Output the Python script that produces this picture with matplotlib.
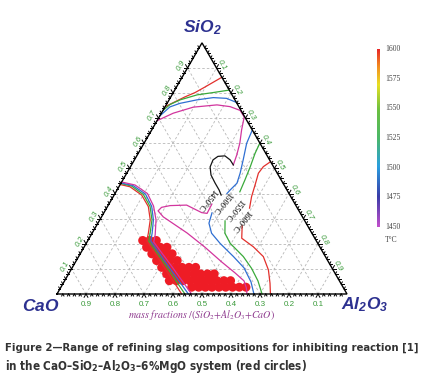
import numpy as np
import matplotlib
matplotlib.use('Agg')
import matplotlib.pyplot as plt
from matplotlib.colors import LinearSegmentedColormap
import matplotlib.transforms as mtrans

# ---------------- data (mass fractions: SiO2, Al2O3; CaO = 1 - SiO2 - Al2O3) ----------------
tick_values = [0.1, 0.2, 0.3, 0.4, 0.5, 0.6, 0.7, 0.8, 0.9]
tick_labels = ['0.1', '0.2', '0.3', '0.4', '0.5', '0.6', '0.7', '0.8', '0.9']
cbar_ticks = [1450, 1475, 1500, 1525, 1550, 1575, 1600]

# red circles: SiO2 level of each row and the Al2O3 values in that row
circle_sio2 = [0.027, 0.053, 0.080, 0.106, 0.133, 0.160, 0.186, 0.213]
circle_al2o3 = [
    [0.451, 0.475, 0.498, 0.521, 0.545, 0.568, 0.592, 0.615, 0.638],
    [0.361, 0.385, 0.408, 0.431, 0.455, 0.478, 0.502, 0.525, 0.549, 0.572],
    [0.338, 0.362, 0.385, 0.408, 0.432, 0.455, 0.479, 0.502],
    [0.308, 0.331, 0.355, 0.378, 0.402, 0.425],
    [0.277, 0.301, 0.324, 0.348],
    [0.247, 0.270, 0.294, 0.317],
    [0.216, 0.240, 0.263, 0.286],
    [0.189, 0.213, 0.236],
]

# isotherms (SiO2, Al2O3)
red_top = [(0.746, 0.000), (0.785, 0.049), (0.802, 0.075), (0.824, 0.098), (0.863, 0.137)]
green_top = [(0.731, 0.000), (0.755, 0.013), (0.773, 0.038), (0.793, 0.087), (0.802, 0.137), (0.812, 0.188)]
blue_top = [(0.709, 0.000), (0.745, 0.017), (0.759, 0.044), (0.773, 0.096), (0.782, 0.148),
            (0.779, 0.195), (0.763, 0.237)]
mag_top = [(0.690, 0.000), (0.720, 0.041), (0.744, 0.098), (0.753, 0.175), (0.746, 0.224),
           (0.731, 0.266), (0.705, 0.293), (0.653, 0.310), (0.601, 0.330), (0.554, 0.343),
           (0.514, 0.351)]
black_loop = [(0.514, 0.351), (0.534, 0.330), (0.550, 0.304), (0.548, 0.281), (0.534, 0.271),
              (0.506, 0.275), (0.474, 0.294), (0.442, 0.324), (0.414, 0.352), (0.394, 0.369)]
mag_low = [(0.358, 0.355), (0.321, 0.357), (0.324, 0.337), (0.354, 0.270), (0.352, 0.214),
           (0.345, 0.188), (0.331, 0.183), (0.307, 0.213), (0.243, 0.327), (0.187, 0.416),
           (0.127, 0.505), (0.084, 0.572), (0.052, 0.619), (0.024, 0.641), (0.000, 0.655)]
blue_up = [(0.653, 0.347), (0.600, 0.354), (0.534, 0.375), (0.481, 0.391), (0.441, 0.400),
           (0.414, 0.390), (0.400, 0.386)]
blue_low = [(0.323, 0.373), (0.282, 0.383), (0.242, 0.412), (0.202, 0.461), (0.149, 0.534),
            (0.104, 0.593), (0.048, 0.645), (0.000, 0.679)]
green_up = [(0.601, 0.399), (0.560, 0.403), (0.507, 0.413), (0.454, 0.421), (0.407, 0.427)]
green_low = [(0.291, 0.434), (0.242, 0.458), (0.202, 0.496), (0.149, 0.568), (0.102, 0.620),
             (0.052, 0.667), (0.000, 0.707)]
red_up = [(0.527, 0.473), (0.507, 0.458), (0.481, 0.454), (0.434, 0.466), (0.388, 0.477),
          (0.342, 0.493)]
red_low = [(0.271, 0.503), (0.222, 0.526), (0.188, 0.583), (0.149, 0.637), (0.096, 0.681),
           (0.043, 0.713), (0.000, 0.736)]
# arcs on the lime-rich side
red_arc = [(0.436, 0.000), (0.427, 0.038), (0.394, 0.095), (0.348, 0.141), (0.295, 0.174),
           (0.242, 0.194), (0.211, 0.204), (0.108, 0.315), (0.000, 0.430)]
green_arc = [(0.440, 0.000), (0.430, 0.042), (0.396, 0.100), (0.348, 0.147), (0.295, 0.180),
             (0.242, 0.200), (0.211, 0.211), (0.108, 0.324), (0.000, 0.441)]
blue_arc = [(0.442, 0.000), (0.432, 0.046), (0.398, 0.106), (0.349, 0.152), (0.295, 0.185),
            (0.242, 0.207), (0.211, 0.218), (0.108, 0.332), (0.000, 0.453)]
mag_arc = [(0.446, 0.000), (0.434, 0.052), (0.400, 0.112), (0.350, 0.158), (0.295, 0.194),
           (0.235, 0.221), (0.207, 0.230), (0.108, 0.343), (0.000, 0.464)]

iso_labels = ['1450°C', '1500°C', '1550°C', '1600°C']
iso_label_pos = [(0.378, 0.327), (0.366, 0.386), (0.339, 0.438), (0.293, 0.488)]

# ---------------- helpers ----------------
H = np.sqrt(3) / 2


def tern(sio2, al2o3):
    s = np.asarray(sio2, float)
    a = np.asarray(al2o3, float)
    return a + s / 2, s * H


def poly(pts):
    arr = np.asarray(pts, float)
    return tern(arr[:, 0], arr[:, 1])


plt.rcParams['mathtext.fontset'] = 'custom'
plt.rcParams['mathtext.rm'] = 'DejaVu Sans:bold'
plt.rcParams['mathtext.it'] = 'Liberation Serif:italic'
plt.rcParams['mathtext.sf'] = 'Liberation Sans:bold:italic'

C_MAG = '#d2359e'
C_BLUE = '#2f6fd2'
C_GREEN = '#3aaa3a'
C_RED = '#e2302c'
C_BLACK = '#141414'
C_TICK = '#3a9a3a'
C_TITLE = '#2d3190'

fig = plt.figure(figsize=(4.23, 3.79), dpi=100)
ax = fig.add_axes([0, 0, 1, 1])
ax.set_xlim(-57 / 290, 366 / 290)
ax.set_ylim(-85 / 290, 294 / 290)
ax.axis('off')

# grid
for v in tick_values:
    for (s0, a0), (s1, a1) in [((v, 0), (v, 1 - v)), ((0, v), (1 - v, v)), ((0, 1 - v), (1 - v, 0))]:
        x, y = tern([s0, s1], [a0, a1])
        ax.plot(x, y, color='#b8b8b8', lw=0.6, ls=(0, (3, 2.5)), zorder=1)

# triangle
x, y = tern([0, 0, 1, 0], [0, 1, 0, 0])
ax.plot(x, y, color='black', lw=1.0, zorder=5, solid_joinstyle='miter')

# ticks
dirs = {
    'bottom': [(0.5, -H), (-0.5, -H)],
    'left': [(-1, 0), (-0.5, H)],
    'right': [(1, 0), (0.5, H)],
}
for k in range(1, 50):
    f = k / 50
    major = (k % 5 == 0)
    L = 0.013 if major else 0.008
    pts = {
        'bottom': tern(0, f),
        'left': tern(f, 0),
        'right': tern(1 - f, f),
    }
    for side, (px0, py0) in pts.items():
        for dx, dy in dirs[side]:
            ax.plot([px0, px0 + L * dx], [py0, py0 + L * dy], color='black', lw=0.7, zorder=5)

# tick labels
for v, lab in zip(tick_values, tick_labels):
    bx, by = tern(0, 1 - v)
    ax.text(bx, by - 0.035, lab, ha='center', va='center', fontsize=5.8, color=C_TICK,
            family='Liberation Sans')
    lx, ly = tern(v, 0)
    ax.text(lx - 0.021, ly + 0.008, lab, ha='center', va='center', fontsize=5.8, color=C_TICK,
            rotation=60, family='Liberation Sans', style='italic')
    rx, ry = tern(1 - v, v)
    ax.text(rx + 0.019, ry + 0.011, lab, ha='center', va='center', fontsize=5.8, color=C_TICK,
            rotation=-60, family='Liberation Sans', style='italic')

# red circles
cx, cy = [], []
for s, row in zip(circle_sio2, circle_al2o3):
    xx, yy = tern([s] * len(row), row)
    cx.extend(xx)
    cy.extend(yy)
ax.scatter(cx, cy, s=42, color='#ee1c25', edgecolors='none', zorder=3)

# isotherms
for pts, col in [(red_top, C_RED), (green_top, C_GREEN), (blue_top, C_BLUE), (mag_top, C_MAG),
                 (black_loop, C_BLACK), (mag_low, C_MAG), (blue_up, C_BLUE), (blue_low, C_BLUE),
                 (green_up, C_GREEN), (green_low, C_GREEN), (red_up, C_RED), (red_low, C_RED),
                 (red_arc, C_RED), (green_arc, C_GREEN), (blue_arc, C_BLUE), (mag_arc, C_MAG)]:
    x, y = poly(pts)
    ax.plot(x, y, color=col, lw=0.9, zorder=4)

for lab, (s, a) in zip(iso_labels, iso_label_pos):
    x, y = tern(s, a)
    ax.text(x, y, lab, ha='center', va='center', rotation=231, fontsize=6,
            family='Liberation Serif', color='black', zorder=6)

# vertex labels
sx, sy = tern(1.0, 0.0)
ax.text(sx, sy + 0.052, r'$\mathsf{SiO_2}$', ha='center', va='center',
        fontsize=12.5, color=C_TITLE)
ax.text(-0.055, -0.04, r'$\mathsf{CaO}$', ha='center', va='center',
        fontsize=12.5, color=C_TITLE)
ax.text(1.062, -0.038, r'$\mathsf{Al_2O_3}$', ha='center', va='center',
        fontsize=12.5, color=C_TITLE)

ax.text(0.5, -0.073, r'$\mathit{mass\ fractions\ /(SiO_2{+}Al_2O_3{+}CaO)}$', ha='center',
        va='center', fontsize=7.2, color='#8e3a8e', math_fontfamily='stix')

# colorbar
cmap = LinearSegmentedColormap.from_list('tc', [
    (0.0, '#c24fcc'), (0.17, '#3a3ca8'), (0.34, '#2a9fe0'), (0.5, '#4cb868'),
    (0.66, '#6cc040'), (0.8, '#e8e024'), (0.9, '#f39020'), (1.0, '#e82828')])
cax = fig.add_axes([376.5 / 423, (379 - 227) / 379, 3 / 423, 178 / 379])
cax.imshow(np.linspace(0, 1, 256)[:, None], aspect='auto', cmap=cmap, origin='lower',
           extent=[0, 1, cbar_ticks[0], cbar_ticks[-1]])
cax.axis('off')
trans = mtrans.blended_transform_factory(cax.transAxes, cax.transData)
for t in cbar_ticks:
    cax.text(2.8, t, str(t), transform=trans, ha='left', va='center', fontsize=5.5,
             family='Liberation Serif', color='#444444')
cax.text(2.8, 1439, 'T°C', transform=trans, ha='left', va='center', fontsize=5.5,
         family='Liberation Serif', color='#444444')

# caption
cap1 = fig.text(5 / 423, 1 - 348 / 379, 'Figure 2\u2014Range of refining slag compositions for inhibiting reaction [1]',
                ha='left', va='center', fontsize=9, weight='bold', color='#333333',
                family='DejaVu Sans', fontstretch='condensed')
cap2 = fig.text(5 / 423, 1 - 366.5 / 379,
                'in the CaO\u2013SiO$_2$\u2013Al$_2$O$_3$\u20136%MgO system (red circles)',
                ha='left', va='center', fontsize=9, weight='bold', color='#333333',
                family='DejaVu Sans', fontstretch='condensed')
fig.canvas.draw()
r = fig.canvas.get_renderer()
for t, target in [(cap1, 415), (cap2, 301)]:
    w = t.get_window_extent(r).width
    t.set_fontsize(t.get_fontsize() * target / w)

fig.savefig('out.png', dpi=100)
